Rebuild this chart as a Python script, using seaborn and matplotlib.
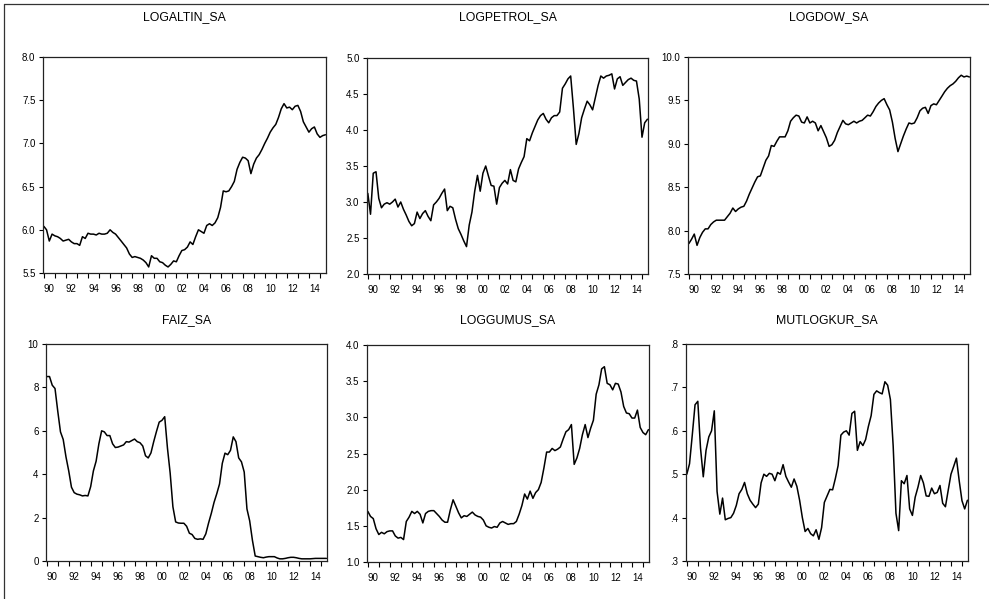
import matplotlib
matplotlib.use("Agg")
import matplotlib.pyplot as plt
import matplotlib.dates as mdates
from matplotlib.lines import Line2D
from matplotlib.ticker import FixedLocator, FuncFormatter, NullFormatter
from matplotlib.font_manager import FontProperties, findfont
import pandas as pd
import seaborn as sns

W, H = 989, 599

# Quarterly observations, 1990Q1 .. 2015Q3 (one line per year)
dates = pd.date_range("1990-01-01", periods=103, freq="QS")

logaltin_sa = [
    6.04, 6.00, 5.87, 5.95,
    5.93, 5.92, 5.90, 5.87,
    5.88, 5.89, 5.86, 5.84,
    5.84, 5.82, 5.92, 5.90,
    5.96, 5.95, 5.95, 5.94,
    5.96, 5.95, 5.95, 5.96,
    6.00, 5.97, 5.95, 5.91,
    5.87, 5.83, 5.79, 5.72,
    5.68, 5.69, 5.68, 5.67,
    5.65, 5.62, 5.57, 5.70,
    5.67, 5.67, 5.63, 5.62,
    5.59, 5.57, 5.60, 5.64,
    5.63, 5.70, 5.76, 5.77,
    5.80, 5.86, 5.83, 5.92,
    6.00, 5.98, 5.96, 6.05,
    6.07, 6.05, 6.08, 6.14,
    6.26, 6.45, 6.44, 6.45,
    6.50, 6.56, 6.70, 6.78,
    6.84, 6.83, 6.80, 6.65,
    6.76, 6.83, 6.87, 6.93,
    7.00, 7.06, 7.13, 7.18,
    7.22, 7.30, 7.40, 7.46,
    7.41, 7.42, 7.39, 7.43,
    7.44, 7.37, 7.25, 7.19,
    7.13, 7.17, 7.19, 7.11,
    7.07, 7.09, 7.10,
]

logpetrol_sa = [
    3.12, 2.83, 3.40, 3.42,
    3.05, 2.92, 2.97, 2.99,
    2.97, 3.00, 3.04, 2.93,
    3.00, 2.90, 2.82, 2.73,
    2.67, 2.70, 2.86, 2.77,
    2.84, 2.88, 2.80, 2.74,
    2.96, 3.00, 3.05, 3.12,
    3.18, 2.88, 2.94, 2.92,
    2.76, 2.63, 2.55, 2.46,
    2.38, 2.68, 2.86, 3.15,
    3.37, 3.15, 3.40, 3.50,
    3.36, 3.23, 3.22, 2.97,
    3.20, 3.26, 3.30, 3.25,
    3.45, 3.30, 3.28, 3.46,
    3.55, 3.63, 3.88, 3.85,
    3.96, 4.05, 4.14, 4.20,
    4.23, 4.15, 4.10, 4.17,
    4.20, 4.20, 4.25, 4.58,
    4.64, 4.71, 4.75, 4.30,
    3.80, 3.95, 4.17, 4.29,
    4.40, 4.35, 4.28, 4.45,
    4.62, 4.75, 4.72, 4.75,
    4.76, 4.78, 4.57, 4.71,
    4.74, 4.62, 4.66, 4.70,
    4.72, 4.69, 4.68, 4.43,
    3.90, 4.10, 4.15,
]

logdow_sa = [
    7.85, 7.90, 7.96, 7.83,
    7.92, 7.98, 8.02, 8.02,
    8.07, 8.10, 8.12, 8.12,
    8.12, 8.12, 8.16, 8.20,
    8.26, 8.22, 8.25, 8.27,
    8.28, 8.34, 8.42, 8.49,
    8.56, 8.62, 8.63, 8.72,
    8.81, 8.86, 8.98, 8.97,
    9.03, 9.08, 9.08, 9.08,
    9.15, 9.26, 9.30, 9.33,
    9.32, 9.25, 9.24, 9.31,
    9.24, 9.26, 9.24, 9.15,
    9.21, 9.14, 9.07, 8.97,
    8.99, 9.04, 9.13, 9.20,
    9.27, 9.23, 9.22, 9.24,
    9.26, 9.24, 9.26, 9.27,
    9.30, 9.33, 9.32, 9.37,
    9.43, 9.47, 9.50, 9.52,
    9.45, 9.39, 9.25, 9.06,
    8.91, 9.00, 9.09, 9.17,
    9.24, 9.23, 9.24, 9.30,
    9.38, 9.41, 9.42, 9.35,
    9.44, 9.46, 9.45, 9.50,
    9.55, 9.60, 9.64, 9.67,
    9.69, 9.72, 9.76, 9.79,
    9.77, 9.78, 9.77,
]

faiz_sa = [
    8.50, 8.50, 8.10, 7.95,
    6.90, 5.95, 5.60, 4.80,
    4.15, 3.40, 3.15, 3.08,
    3.05, 3.00, 3.02, 3.00,
    3.43, 4.15, 4.60, 5.40,
    6.00, 5.95, 5.78, 5.78,
    5.40, 5.23, 5.25, 5.30,
    5.35, 5.50, 5.48, 5.55,
    5.62, 5.50, 5.45, 5.30,
    4.85, 4.75, 4.98, 5.50,
    5.97, 6.40, 6.48, 6.65,
    5.20, 4.05, 2.50, 1.80,
    1.75, 1.74, 1.74, 1.60,
    1.28, 1.22, 1.04, 1.00,
    1.02, 1.00, 1.25, 1.75,
    2.20, 2.70, 3.10, 3.55,
    4.50, 4.97, 4.90, 5.10,
    5.72, 5.50, 4.75, 4.57,
    4.10, 2.40, 1.85, 0.95,
    0.23, 0.20, 0.17, 0.15,
    0.18, 0.20, 0.20, 0.20,
    0.14, 0.10, 0.10, 0.12,
    0.15, 0.17, 0.17, 0.15,
    0.12, 0.10, 0.10, 0.10,
    0.10, 0.11, 0.12, 0.12,
    0.12, 0.12, 0.12,
]

loggumus_sa = [
    1.70, 1.63, 1.60, 1.46,
    1.38, 1.41, 1.39, 1.42,
    1.43, 1.43, 1.36, 1.33,
    1.34, 1.31, 1.56, 1.62,
    1.70, 1.67, 1.70, 1.66,
    1.54, 1.67, 1.70, 1.71,
    1.71, 1.67, 1.63, 1.58,
    1.55, 1.55, 1.72, 1.86,
    1.77, 1.68, 1.61, 1.64,
    1.63, 1.66, 1.69, 1.65,
    1.63, 1.62, 1.58, 1.50,
    1.48, 1.47, 1.49, 1.48,
    1.54, 1.56, 1.54, 1.52,
    1.53, 1.53, 1.56, 1.66,
    1.78, 1.94, 1.87, 1.98,
    1.88, 1.96, 2.00, 2.10,
    2.30, 2.52, 2.52, 2.57,
    2.54, 2.56, 2.59, 2.70,
    2.80, 2.83, 2.90, 2.35,
    2.44, 2.57, 2.76, 2.90,
    2.72, 2.85, 2.96, 3.32,
    3.45, 3.67, 3.70, 3.47,
    3.45, 3.38, 3.47, 3.46,
    3.35, 3.15, 3.06, 3.05,
    2.99, 2.99, 3.10, 2.86,
    2.79, 2.76, 2.83,
]

mutlogkur_sa = [
    0.500, 0.524, 0.590, 0.660,
    0.668, 0.560, 0.494, 0.555,
    0.586, 0.600, 0.646, 0.460,
    0.408, 0.445, 0.395, 0.398,
    0.400, 0.410, 0.428, 0.455,
    0.465, 0.481, 0.455, 0.440,
    0.431, 0.423, 0.431, 0.480,
    0.500, 0.495, 0.502, 0.500,
    0.485, 0.504, 0.500, 0.522,
    0.495, 0.482, 0.470, 0.489,
    0.472, 0.440, 0.400, 0.368,
    0.375, 0.363, 0.358, 0.372,
    0.350, 0.377, 0.435, 0.450,
    0.465, 0.464, 0.490, 0.520,
    0.590, 0.597, 0.600, 0.590,
    0.640, 0.645, 0.555, 0.575,
    0.566, 0.580, 0.610, 0.635,
    0.684, 0.692, 0.688, 0.685,
    0.713, 0.705, 0.672, 0.565,
    0.410, 0.370, 0.485, 0.478,
    0.497, 0.420, 0.405, 0.447,
    0.470, 0.497, 0.480, 0.450,
    0.449, 0.468, 0.455, 0.458,
    0.474, 0.433, 0.425, 0.463,
    0.500, 0.518, 0.537, 0.485,
    0.439, 0.420, 0.440,
]

label_years = list(range(1990, 2015, 2))


def pick_font():
    for fam in ["Liberation Sans Narrow", "Arial Narrow", "Liberation Sans", "Arial"]:
        try:
            findfont(FontProperties(family=fam), fallback_to_default=False)
            return fam
        except Exception:
            continue
    return "DejaVu Sans"


sns.set_style("ticks")
FONT = pick_font()
NARROW = "Narrow" in FONT
plt.rcParams["font.family"] = [FONT, "DejaVu Sans"]
TITLE_SIZE = 10.6 if NARROW else 8.8
TICK_SIZE = 8.2 if NARROW else 7.0


def one_decimal(v):
    return f"{v:.1f}"


def integer(v):
    return f"{v:.0f}"


def no_lead_zero(v):
    return f"{v:.1f}".lstrip("0")


# title, series, y-range, y-step, label format, axes box in pixels (l, t, r, b)
panels = [
    ("LOGALTIN_SA", logaltin_sa, (5.5, 8.0), 0.5, one_decimal, (43, 57, 326, 273)),
    ("LOGPETROL_SA", logpetrol_sa, (2.0, 5.0), 0.5, one_decimal, (367, 58, 648, 274)),
    ("LOGDOW_SA", logdow_sa, (7.5, 10.0), 0.5, one_decimal, (688, 57, 970, 274)),
    ("FAIZ_SA", faiz_sa, (0, 10), 2, integer, (46, 344, 327, 561)),
    ("LOGGUMUS_SA", loggumus_sa, (1.0, 4.0), 0.5, one_decimal, (367, 345, 649, 562)),
    ("MUTLOGKUR_SA", mutlogkur_sa, (0.3, 0.8), 0.1, no_lead_zero, (686, 344, 968, 561)),
]
title_y = [17, 17, 17, 320, 320, 320]

fig = plt.figure(figsize=(W / 100, H / 100), dpi=100)
fig.patch.set_facecolor("white")

minor_pos = [mdates.date2num(pd.Timestamp(f"{y}-07-01")) for y in label_years]

for (title, series, (y0, y1), step, fmt, (l, t, r, b)), ty in zip(panels, title_y):
    ax = fig.add_axes([l / W, 1 - b / H, (r - l) / W, (b - t) / H])
    df = pd.DataFrame({"date": dates, "value": series})
    sns.lineplot(data=df, x="date", y="value", ax=ax, color="black",
                 linewidth=1.1, estimator=None)
    ax.set_xlim(pd.Timestamp("1989-12-05"), pd.Timestamp("2015-07-20"))
    ax.set_ylim(y0, y1)
    n = int(round((y1 - y0) / step))
    ticks = [y0 + k * step for k in range(n + 1)]
    ax.yaxis.set_major_locator(FixedLocator(ticks))
    ax.yaxis.set_major_formatter(FuncFormatter(lambda v, p, f=fmt: f(v)))

    ax.xaxis.set_major_locator(mdates.YearLocator(1))
    ax.xaxis.set_major_formatter(NullFormatter())
    ax.xaxis.set_minor_locator(FixedLocator(minor_pos))
    ax.xaxis.set_minor_formatter(
        FuncFormatter(lambda v, p: f"{mdates.num2date(v).year % 100:02d}"))

    ax.tick_params(axis="x", which="major", length=3.6, width=0.8,
                   direction="out", color="black")
    ax.tick_params(axis="x", which="minor", length=0, pad=7.6,
                   labelsize=TICK_SIZE, labelcolor="black")
    ax.tick_params(axis="y", which="major", length=3.0, width=0.8, pad=2.4,
                   direction="out", labelsize=TICK_SIZE, color="black",
                   labelcolor="black")
    ax.set_xlabel("")
    ax.set_ylabel("")
    for side in ["left", "right", "top", "bottom"]:
        ax.spines[side].set_visible(True)
        ax.spines[side].set_linewidth(0.9)
        ax.spines[side].set_color("#222222")

    fig.text((l + r) / 2 / W, 1 - ty / H, title, ha="center", va="center",
             fontsize=TITLE_SIZE, color="black")

# outer frame along the left and top edges
fig.add_artist(Line2D([4 / W, 4 / W], [0, 1 - 4 / H], transform=fig.transFigure,
                      color="#333333", linewidth=0.9))
fig.add_artist(Line2D([4 / W, 1], [1 - 4 / H, 1 - 4 / H], transform=fig.transFigure,
                      color="#333333", linewidth=0.9))

fig.savefig("out.png", dpi=100, facecolor="white")
